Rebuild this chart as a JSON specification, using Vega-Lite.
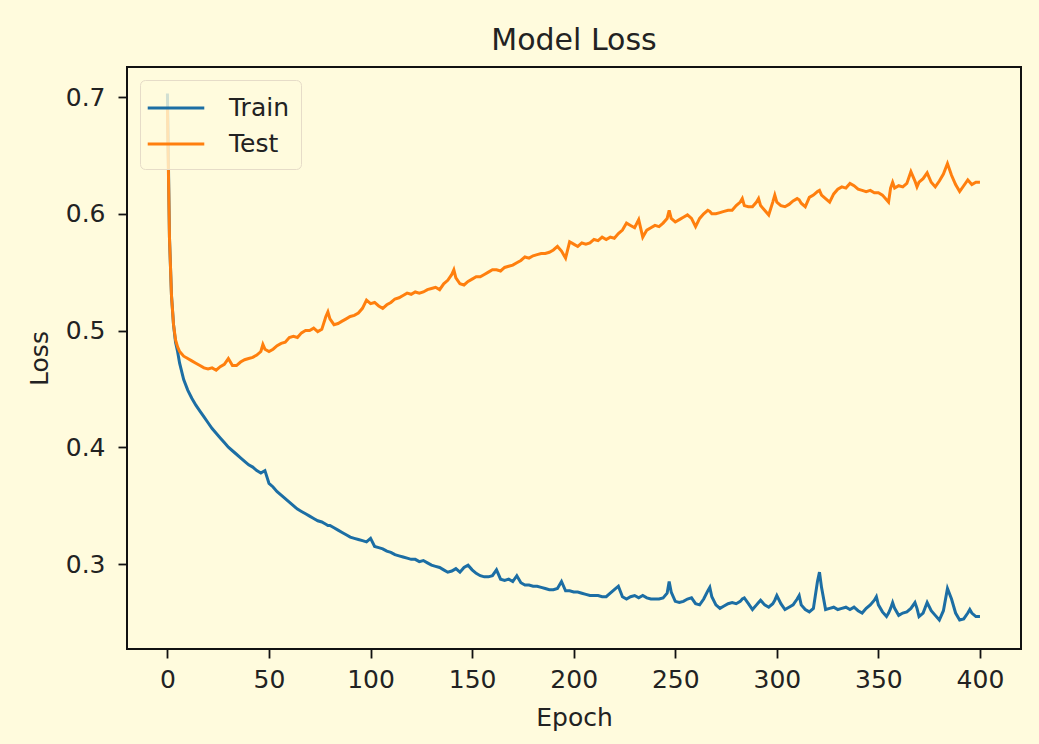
{
  "$schema": "https://vega.github.io/schema/vega-lite/v6.json",
  "autosize": "none",
  "width": 894,
  "height": 582,
  "padding": {"left": 127, "top": 67, "right": 18, "bottom": 95},
  "background": "#fffbdd",
  "title": {"text": "Model Loss", "fontSize": 30, "font": "DejaVu Sans", "fontWeight": "normal", "color": "#222222", "anchor": "middle", "frame": "group", "baseline": "alphabetic", "offset": -13},
  "config": {
    "view": {"stroke": "#111111", "strokeWidth": 2},
    "axis": {"labelFont": "DejaVu Sans", "titleFont": "DejaVu Sans", "labelFontSize": 25, "titleFontSize": 25, "titleFontWeight": "normal", "labelColor": "#222222", "titleColor": "#222222", "grid": false, "domain": false, "tickColor": "#111111", "tickWidth": 1.8, "tickSize": 9}
  },
  "data": {"values": [
    {"e":0,"Train":0.703,"Test":0.690},
    {"e":1,"Train":0.580,"Test":0.580},
    {"e":2,"Train":0.530,"Test":0.530},
    {"e":3,"Train":0.505,"Test":0.505},
    {"e":4,"Train":0.490,"Test":0.492},
    {"e":5,"Train":0.482,"Test":0.486},
    {"e":6,"Train":0.472,"Test":0.482},
    {"e":8,"Train":0.458,"Test":0.478},
    {"e":10,"Train":0.449,"Test":0.476},
    {"e":12,"Train":0.442,"Test":0.474},
    {"e":14,"Train":0.436,"Test":0.472},
    {"e":16,"Train":0.431,"Test":0.470},
    {"e":18,"Train":0.426,"Test":0.468},
    {"e":20,"Train":0.421,"Test":0.467},
    {"e":22,"Train":0.416,"Test":0.468},
    {"e":24,"Train":0.412,"Test":0.466},
    {"e":26,"Train":0.408,"Test":0.469},
    {"e":28,"Train":0.404,"Test":0.471},
    {"e":30,"Train":0.400,"Test":0.476},
    {"e":32,"Train":0.397,"Test":0.470},
    {"e":34,"Train":0.394,"Test":0.470},
    {"e":36,"Train":0.391,"Test":0.473},
    {"e":38,"Train":0.388,"Test":0.475},
    {"e":40,"Train":0.385,"Test":0.476},
    {"e":42,"Train":0.383,"Test":0.477},
    {"e":44,"Train":0.380,"Test":0.479},
    {"e":46,"Train":0.378,"Test":0.482},
    {"e":47,"Train":0.379,"Test":0.488},
    {"e":48,"Train":0.380,"Test":0.484},
    {"e":50,"Train":0.369,"Test":0.482},
    {"e":52,"Train":0.366,"Test":0.484},
    {"e":54,"Train":0.362,"Test":0.487},
    {"e":56,"Train":0.359,"Test":0.489},
    {"e":58,"Train":0.356,"Test":0.490},
    {"e":60,"Train":0.353,"Test":0.494},
    {"e":62,"Train":0.350,"Test":0.495},
    {"e":64,"Train":0.347,"Test":0.494},
    {"e":66,"Train":0.345,"Test":0.498},
    {"e":68,"Train":0.343,"Test":0.500},
    {"e":70,"Train":0.341,"Test":0.500},
    {"e":72,"Train":0.339,"Test":0.502},
    {"e":74,"Train":0.337,"Test":0.499},
    {"e":76,"Train":0.336,"Test":0.501},
    {"e":78,"Train":0.334,"Test":0.512},
    {"e":79,"Train":0.333,"Test":0.516},
    {"e":80,"Train":0.333,"Test":0.510},
    {"e":82,"Train":0.331,"Test":0.505},
    {"e":84,"Train":0.329,"Test":0.506},
    {"e":86,"Train":0.327,"Test":0.508},
    {"e":88,"Train":0.325,"Test":0.510},
    {"e":90,"Train":0.323,"Test":0.512},
    {"e":92,"Train":0.322,"Test":0.513},
    {"e":94,"Train":0.321,"Test":0.515},
    {"e":96,"Train":0.320,"Test":0.519},
    {"e":98,"Train":0.319,"Test":0.526},
    {"e":100,"Train":0.322,"Test":0.523},
    {"e":102,"Train":0.315,"Test":0.524},
    {"e":104,"Train":0.314,"Test":0.521},
    {"e":106,"Train":0.313,"Test":0.519},
    {"e":108,"Train":0.311,"Test":0.522},
    {"e":110,"Train":0.310,"Test":0.524},
    {"e":112,"Train":0.308,"Test":0.527},
    {"e":114,"Train":0.307,"Test":0.528},
    {"e":116,"Train":0.306,"Test":0.530},
    {"e":118,"Train":0.305,"Test":0.532},
    {"e":120,"Train":0.304,"Test":0.531},
    {"e":122,"Train":0.304,"Test":0.533},
    {"e":124,"Train":0.302,"Test":0.532},
    {"e":126,"Train":0.303,"Test":0.533},
    {"e":128,"Train":0.301,"Test":0.535},
    {"e":130,"Train":0.299,"Test":0.536},
    {"e":132,"Train":0.298,"Test":0.537},
    {"e":134,"Train":0.297,"Test":0.535},
    {"e":136,"Train":0.295,"Test":0.540},
    {"e":138,"Train":0.293,"Test":0.543},
    {"e":140,"Train":0.294,"Test":0.548},
    {"e":141,"Train":0.295,"Test":0.552},
    {"e":142,"Train":0.296,"Test":0.545},
    {"e":144,"Train":0.293,"Test":0.540},
    {"e":146,"Train":0.297,"Test":0.539},
    {"e":148,"Train":0.299,"Test":0.542},
    {"e":150,"Train":0.295,"Test":0.544},
    {"e":152,"Train":0.292,"Test":0.546},
    {"e":154,"Train":0.290,"Test":0.546},
    {"e":156,"Train":0.289,"Test":0.548},
    {"e":158,"Train":0.289,"Test":0.550},
    {"e":160,"Train":0.290,"Test":0.552},
    {"e":162,"Train":0.295,"Test":0.552},
    {"e":164,"Train":0.287,"Test":0.551},
    {"e":166,"Train":0.286,"Test":0.554},
    {"e":168,"Train":0.287,"Test":0.555},
    {"e":170,"Train":0.285,"Test":0.556},
    {"e":172,"Train":0.290,"Test":0.558},
    {"e":174,"Train":0.284,"Test":0.560},
    {"e":176,"Train":0.282,"Test":0.563},
    {"e":178,"Train":0.282,"Test":0.562},
    {"e":180,"Train":0.281,"Test":0.564},
    {"e":182,"Train":0.281,"Test":0.565},
    {"e":184,"Train":0.280,"Test":0.566},
    {"e":186,"Train":0.279,"Test":0.566},
    {"e":188,"Train":0.278,"Test":0.567},
    {"e":190,"Train":0.278,"Test":0.569},
    {"e":192,"Train":0.279,"Test":0.572},
    {"e":194,"Train":0.285,"Test":0.568},
    {"e":196,"Train":0.277,"Test":0.562},
    {"e":198,"Train":0.277,"Test":0.576},
    {"e":200,"Train":0.276,"Test":0.574},
    {"e":202,"Train":0.276,"Test":0.572},
    {"e":204,"Train":0.275,"Test":0.575},
    {"e":206,"Train":0.274,"Test":0.574},
    {"e":208,"Train":0.273,"Test":0.575},
    {"e":210,"Train":0.273,"Test":0.578},
    {"e":212,"Train":0.273,"Test":0.577},
    {"e":214,"Train":0.272,"Test":0.580},
    {"e":216,"Train":0.272,"Test":0.578},
    {"e":218,"Train":0.275,"Test":0.580},
    {"e":220,"Train":0.278,"Test":0.579},
    {"e":222,"Train":0.281,"Test":0.583},
    {"e":224,"Train":0.272,"Test":0.586},
    {"e":226,"Train":0.270,"Test":0.592},
    {"e":228,"Train":0.272,"Test":0.590},
    {"e":230,"Train":0.273,"Test":0.588},
    {"e":232,"Train":0.271,"Test":0.595},
    {"e":234,"Train":0.273,"Test":0.580},
    {"e":236,"Train":0.271,"Test":0.586},
    {"e":238,"Train":0.270,"Test":0.588},
    {"e":240,"Train":0.270,"Test":0.590},
    {"e":242,"Train":0.270,"Test":0.589},
    {"e":244,"Train":0.271,"Test":0.592},
    {"e":246,"Train":0.275,"Test":0.596},
    {"e":247,"Train":0.285,"Test":0.603},
    {"e":248,"Train":0.276,"Test":0.596},
    {"e":250,"Train":0.268,"Test":0.593},
    {"e":252,"Train":0.267,"Test":0.595},
    {"e":254,"Train":0.268,"Test":0.597},
    {"e":256,"Train":0.270,"Test":0.599},
    {"e":258,"Train":0.271,"Test":0.596},
    {"e":260,"Train":0.266,"Test":0.589},
    {"e":262,"Train":0.265,"Test":0.596},
    {"e":264,"Train":0.270,"Test":0.600},
    {"e":266,"Train":0.277,"Test":0.603},
    {"e":267,"Train":0.280,"Test":0.602},
    {"e":268,"Train":0.272,"Test":0.600},
    {"e":270,"Train":0.265,"Test":0.600},
    {"e":272,"Train":0.262,"Test":0.601},
    {"e":274,"Train":0.264,"Test":0.602},
    {"e":276,"Train":0.266,"Test":0.603},
    {"e":278,"Train":0.267,"Test":0.603},
    {"e":280,"Train":0.266,"Test":0.607},
    {"e":282,"Train":0.268,"Test":0.610},
    {"e":283,"Train":0.270,"Test":0.613},
    {"e":284,"Train":0.271,"Test":0.607},
    {"e":286,"Train":0.266,"Test":0.606},
    {"e":288,"Train":0.261,"Test":0.606},
    {"e":290,"Train":0.265,"Test":0.610},
    {"e":291,"Train":0.267,"Test":0.613},
    {"e":292,"Train":0.269,"Test":0.607},
    {"e":294,"Train":0.265,"Test":0.603},
    {"e":296,"Train":0.263,"Test":0.599},
    {"e":298,"Train":0.266,"Test":0.610},
    {"e":299,"Train":0.269,"Test":0.616},
    {"e":300,"Train":0.273,"Test":0.610},
    {"e":302,"Train":0.266,"Test":0.607},
    {"e":304,"Train":0.261,"Test":0.606},
    {"e":306,"Train":0.263,"Test":0.608},
    {"e":308,"Train":0.265,"Test":0.611},
    {"e":310,"Train":0.270,"Test":0.613},
    {"e":311,"Train":0.273,"Test":0.612},
    {"e":312,"Train":0.265,"Test":0.609},
    {"e":314,"Train":0.261,"Test":0.606},
    {"e":316,"Train":0.259,"Test":0.614},
    {"e":318,"Train":0.262,"Test":0.616},
    {"e":320,"Train":0.285,"Test":0.619},
    {"e":321,"Train":0.293,"Test":0.620},
    {"e":322,"Train":0.280,"Test":0.616},
    {"e":324,"Train":0.261,"Test":0.613},
    {"e":326,"Train":0.262,"Test":0.610},
    {"e":328,"Train":0.263,"Test":0.617},
    {"e":330,"Train":0.261,"Test":0.621},
    {"e":332,"Train":0.262,"Test":0.623},
    {"e":334,"Train":0.263,"Test":0.622},
    {"e":336,"Train":0.261,"Test":0.626},
    {"e":338,"Train":0.263,"Test":0.624},
    {"e":340,"Train":0.260,"Test":0.621},
    {"e":342,"Train":0.258,"Test":0.620},
    {"e":344,"Train":0.262,"Test":0.619},
    {"e":346,"Train":0.265,"Test":0.620},
    {"e":348,"Train":0.269,"Test":0.618},
    {"e":349,"Train":0.272,"Test":0.618},
    {"e":350,"Train":0.265,"Test":0.618},
    {"e":352,"Train":0.259,"Test":0.616},
    {"e":354,"Train":0.255,"Test":0.612},
    {"e":355,"Train":0.258,"Test":0.610},
    {"e":356,"Train":0.262,"Test":0.622},
    {"e":357,"Train":0.267,"Test":0.627},
    {"e":358,"Train":0.262,"Test":0.622},
    {"e":360,"Train":0.256,"Test":0.624},
    {"e":362,"Train":0.258,"Test":0.623},
    {"e":364,"Train":0.259,"Test":0.626},
    {"e":366,"Train":0.262,"Test":0.636},
    {"e":368,"Train":0.267,"Test":0.628},
    {"e":369,"Train":0.262,"Test":0.623},
    {"e":370,"Train":0.255,"Test":0.627},
    {"e":372,"Train":0.258,"Test":0.630},
    {"e":374,"Train":0.267,"Test":0.635},
    {"e":376,"Train":0.260,"Test":0.627},
    {"e":378,"Train":0.256,"Test":0.623},
    {"e":380,"Train":0.252,"Test":0.628},
    {"e":382,"Train":0.260,"Test":0.634},
    {"e":384,"Train":0.279,"Test":0.643},
    {"e":386,"Train":0.270,"Test":0.633},
    {"e":388,"Train":0.258,"Test":0.625},
    {"e":390,"Train":0.252,"Test":0.619},
    {"e":392,"Train":0.253,"Test":0.624},
    {"e":394,"Train":0.258,"Test":0.629},
    {"e":395,"Train":0.261,"Test":0.627},
    {"e":396,"Train":0.258,"Test":0.625},
    {"e":398,"Train":0.255,"Test":0.627},
    {"e":400,"Train":0.255,"Test":0.627}
  ]},
  "transform": [{"fold": ["Train", "Test"], "as": ["series", "loss"]}],
  "mark": {"type": "line", "strokeWidth": 3, "clip": true},
  "encoding": {
    "x": {"field": "e", "type": "quantitative", "title": "Epoch",
      "scale": {"domain": [-19.9, 420.2], "nice": false, "zero": false},
      "axis": {"values": [0, 50, 100, 150, 200, 250, 300, 350, 400], "labelPadding": 9, "titlePadding": 13, "labelFlush": false}},
    "y": {"field": "loss", "type": "quantitative", "title": "Loss",
      "scale": {"domain": [0.2272, 0.7257], "nice": false, "zero": false},
      "axis": {"values": [0.3, 0.4, 0.5, 0.6, 0.7], "format": ".1f", "labelPadding": 13, "titlePadding": 13, "labelFlush": false}},
    "color": {"field": "series", "type": "nominal", "sort": ["Train", "Test"],
      "scale": {"domain": ["Train", "Test"], "range": ["#1c6ea4", "#ff7f0e"]},
      "legend": {"title": null, "orient": "top-left", "offset": 13, "padding": 12, "symbolOffset": 8, "symbolType": "M-2,0H2", "symbolSize": 800, "symbolStrokeWidth": 3, "labelFont": "DejaVu Sans", "labelFontSize": 25, "labelColor": "#222222", "labelOffset": 37, "rowPadding": 7, "fillColor": "rgba(255,251,221,0.8)", "strokeColor": "#e6dcc8", "cornerRadius": 5}}
  }
}
